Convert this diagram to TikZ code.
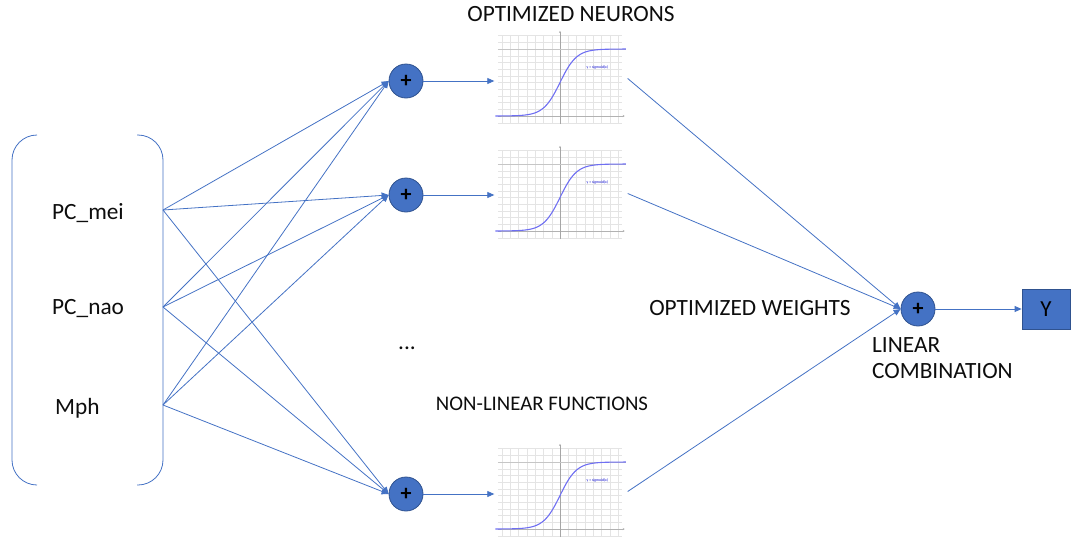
\documentclass[tikz,border=0pt]{standalone}
\usepackage{fontspec}
\setmainfont{Carlito}
\usetikzlibrary{arrows.meta}
\definecolor{obl}{HTML}{4472C4}
\definecolor{obd}{HTML}{2F528F}
\definecolor{sigc}{HTML}{6F6FF2}
\definecolor{grd}{HTML}{E4E4E4}
\newcommand\sigplot[2]{%
 \begin{scope}[shift={(#1,#2)}, x=8.3pt, y=67pt]
  \foreach \i in {-7,...,7} \draw[grd, line width=0.35pt] (\i,-0.1) -- (\i,1.2);
  \foreach \j in {-1,...,12} \draw[grd, line width=0.35pt] (-7.5,\j/10) -- (7.5,\j/10);
  \draw[gray!60, line width=0.4pt, -{Stealth[length=2pt,width=2pt]}] (-7.5,0) -- (7.8,0);
  \draw[gray!70, line width=0.4pt, -{Stealth[length=2pt,width=2pt]}] (0,-0.12) -- (0,1.27);
  \draw[gray!45, line width=1pt] (-7.5,1) -- (7.9,1);
  \draw[sigc, line width=1.1pt, domain=-7.8:7.95, samples=80, smooth] plot (\x,{1/(1+exp(-\x))});
  \node[text=blue!80!black, font=\fontsize{3.8}{4}\selectfont, inner sep=0] at (4.5,0.72) {y = sigmoid(x)};
 \end{scope}}
\tikzset{
  lbl/.style={font=\fontsize{23.3}{26}\selectfont, text=black!95, inner sep=0},
  sumnode/.style={circle, fill=obl, draw=obd, line width=0.8pt, minimum size=34pt, inner sep=0, font=\fontsize{22}{22}\selectfont\bfseries},
  arr/.style={draw=obl, line width=0.8pt, -{Triangle[length=7pt,width=6pt]}},
  conn/.style={draw=obl, line width=0.8pt},
  plotbox/.style={minimum width=133pt, minimum height=91pt, inner sep=0}
}
\begin{document}
\begin{tikzpicture}[x=1pt, y=-1pt]
\useasboundingbox (0,0) rectangle (1071,541);
% brackets
\draw[conn, rounded corners=25pt] (37,135) -- (12,135) -- (12,485) -- (37,485);
\draw[conn, rounded corners=25pt] (137,135) -- (163,135) -- (163,485) -- (137,485);
% inputs
\node[lbl, anchor=west] (tmei) at (52,213) {PC\_mei};
\node[lbl, anchor=west] (tnao) at (52,308) {PC\_nao};
\node[lbl, anchor=west] (tmph) at (55,408) {Mph};
\coordinate (i1) at (163,210);
\coordinate (i2) at (163,307);
\coordinate (i3) at (163,405);
% sum nodes
\node[sumnode] (s1) at (406,81) {+};
\node[sumnode] (s2) at (406,195) {+};
\node[sumnode] (s3) at (406,494) {+};
% plots
\sigplot{560}{116}
\sigplot{560}{231}
\sigplot{560}{529}
\node[plotbox] (p1) at (561,78.5) {};
\node[plotbox] (p2) at (561,193.5) {};
\node[plotbox] (p3) at (561,491.5) {};
% final
\node[sumnode] (f) at (918,309) {+};
\node[fill=obl, draw=obd, line width=0.8pt, minimum width=48pt, minimum height=40pt, inner sep=0, font=\fontsize{23}{23}\selectfont] (Y) at (1046,309) {Y};
% input connections
\foreach \a in {i1,i2,i3} {
  \foreach \b in {s1,s2,s3} {
    \draw[arr] (\a) -- (\b.west);
  }
}
\draw[arr] (s1.east) -- (p1.west |- s1.east);
\draw[arr] (s2.east) -- (p2.west |- s2.east);
\draw[arr] (s3.east) -- (p3.west |- s3.east);
\draw[arr] (p1.east) -- (f.west);
\draw[arr] (p2.east) -- (f.west);
\draw[arr] (p3.east) -- (f.west);
\draw[arr] (f.east) -- (Y.west);
% labels
\node[lbl] (tneur) at (571,14) {OPTIMIZED NEURONS};
\node[lbl] (tw) at (750,308) {OPTIMIZED WEIGHTS};
\node[lbl] (tdots) at (407,348) {...};
\node[lbl, font=\fontsize{20.8}{24}\selectfont] (tnl) at (542,404) {NON-LINEAR FUNCTIONS};
\node[lbl, anchor=west, align=left] (tlc) at (872,358) {LINEAR\\COMBINATION};
\end{tikzpicture}
\end{document}
